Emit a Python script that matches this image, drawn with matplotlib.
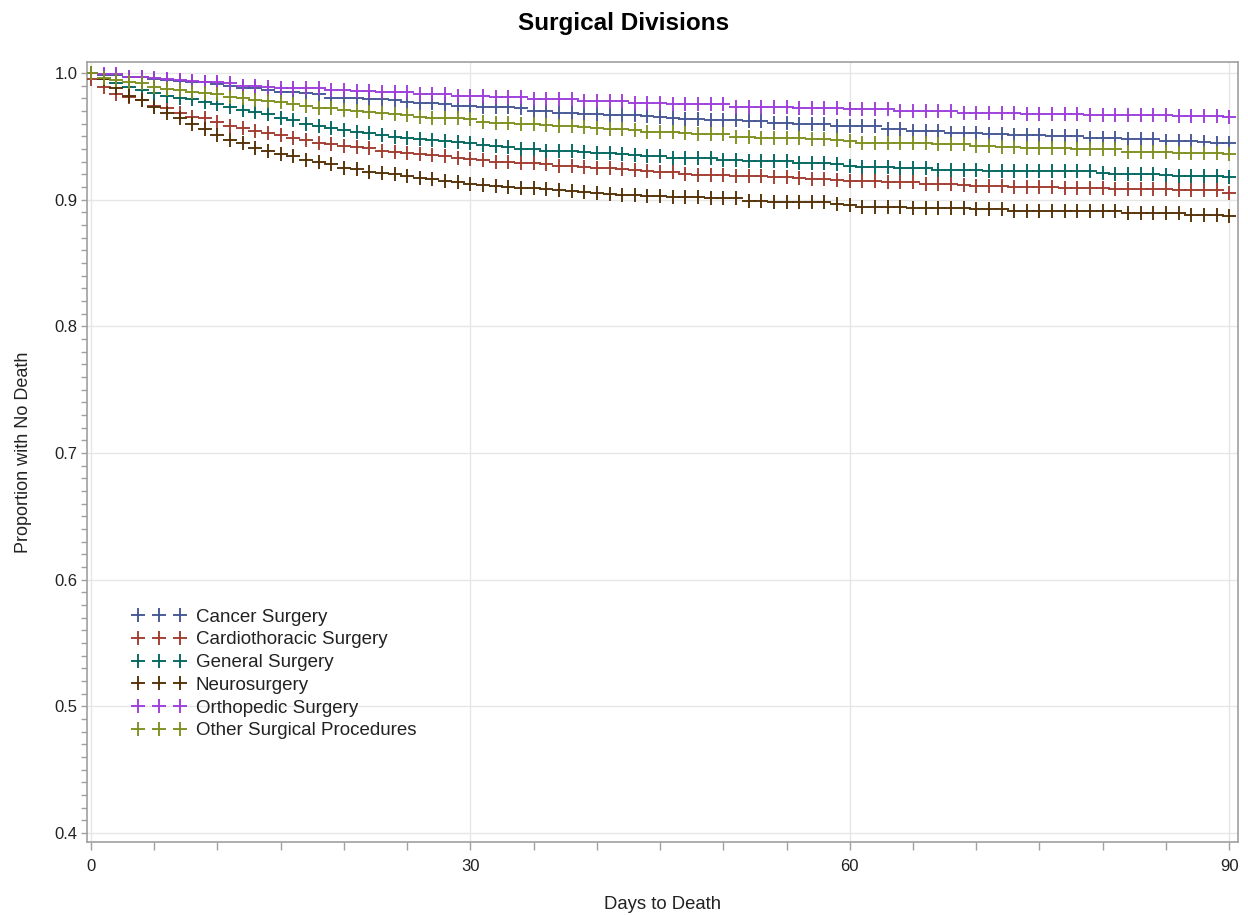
import matplotlib
matplotlib.use("Agg")
import matplotlib.pyplot as plt
from matplotlib.lines import Line2D
from matplotlib.ticker import MultipleLocator, FixedLocator

plt.rcParams['font.family'] = ['Liberation Sans', 'DejaVu Sans']

days = list(range(0, 91))

series_names = ["Cancer Surgery", "Cardiothoracic Surgery", "General Surgery",
                "Neurosurgery", "Orthopedic Surgery", "Other Surgical Procedures"]

cancer = [1.0000, 0.9985, 0.9980, 0.9971, 0.9971, 0.9955, 0.9947, 0.9940, 0.9932, 0.9926,
          0.9911, 0.9900, 0.9884, 0.9879, 0.9866, 0.9853, 0.9847, 0.9840, 0.9832, 0.9805,
          0.9805, 0.9800, 0.9795, 0.9795, 0.9787, 0.9774, 0.9761, 0.9761, 0.9753, 0.9740,
          0.9740, 0.9729, 0.9729, 0.9729, 0.9721, 0.9703, 0.9703, 0.9687, 0.9687, 0.9676,
          0.9676, 0.9669, 0.9669, 0.9669, 0.9661, 0.9655, 0.9642, 0.9637, 0.9637, 0.9629,
          0.9629, 0.9629, 0.9621, 0.9621, 0.9603, 0.9603, 0.9595, 0.9595, 0.9595, 0.9584,
          0.9582, 0.9582, 0.9582, 0.9555, 0.9555, 0.9545, 0.9545, 0.9545, 0.9529, 0.9529,
          0.9529, 0.9519, 0.9519, 0.9511, 0.9511, 0.9511, 0.9503, 0.9503, 0.9503, 0.9484,
          0.9484, 0.9484, 0.9476, 0.9476, 0.9476, 0.9466, 0.9466, 0.9466, 0.9458, 0.9450,
          0.9450]

cardio = [0.9950, 0.9886, 0.9837, 0.9810, 0.9790, 0.9740, 0.9721, 0.9682, 0.9655, 0.9642,
          0.9611, 0.9584, 0.9563, 0.9542, 0.9524, 0.9511, 0.9490, 0.9471, 0.9445, 0.9437,
          0.9426, 0.9419, 0.9405, 0.9384, 0.9374, 0.9366, 0.9358, 0.9353, 0.9348, 0.9332,
          0.9324, 0.9313, 0.9300, 0.9300, 0.9292, 0.9292, 0.9282, 0.9266, 0.9266, 0.9255,
          0.9248, 0.9248, 0.9240, 0.9234, 0.9229, 0.9215, 0.9215, 0.9200, 0.9195, 0.9195,
          0.9195, 0.9190, 0.9190, 0.9190, 0.9182, 0.9182, 0.9174, 0.9163, 0.9163, 0.9155,
          0.9150, 0.9150, 0.9150, 0.9142, 0.9142, 0.9142, 0.9124, 0.9124, 0.9124, 0.9116,
          0.9108, 0.9108, 0.9108, 0.9098, 0.9098, 0.9098, 0.9098, 0.9090, 0.9090, 0.9090,
          0.9090, 0.9082, 0.9082, 0.9082, 0.9082, 0.9082, 0.9077, 0.9077, 0.9077, 0.9077,
          0.9050]

general = [1.0000, 0.9953, 0.9918, 0.9892, 0.9866, 0.9840, 0.9821, 0.9805, 0.9795, 0.9774,
           0.9753, 0.9734, 0.9708, 0.9695, 0.9674, 0.9647, 0.9629, 0.9595, 0.9584, 0.9569,
           0.9550, 0.9537, 0.9524, 0.9511, 0.9497, 0.9490, 0.9479, 0.9471, 0.9463, 0.9453,
           0.9445, 0.9432, 0.9424, 0.9413, 0.9398, 0.9398, 0.9387, 0.9387, 0.9387, 0.9379,
           0.9371, 0.9371, 0.9361, 0.9353, 0.9345, 0.9345, 0.9332, 0.9332, 0.9332, 0.9332,
           0.9313, 0.9313, 0.9305, 0.9305, 0.9305, 0.9305, 0.9287, 0.9287, 0.9287, 0.9279,
           0.9266, 0.9255, 0.9255, 0.9255, 0.9248, 0.9248, 0.9248, 0.9234, 0.9234, 0.9234,
           0.9234, 0.9229, 0.9229, 0.9229, 0.9229, 0.9229, 0.9229, 0.9229, 0.9229, 0.9229,
           0.9213, 0.9203, 0.9203, 0.9203, 0.9203, 0.9195, 0.9187, 0.9187, 0.9187, 0.9187,
           0.9177]

neuro = [1.0000, 0.9953, 0.9884, 0.9816, 0.9790, 0.9734, 0.9682, 0.9642, 0.9595, 0.9558,
         0.9511, 0.9471, 0.9445, 0.9405, 0.9384, 0.9358, 0.9348, 0.9313, 0.9295, 0.9279,
         0.9253, 0.9242, 0.9216, 0.9208, 0.9200, 0.9190, 0.9174, 0.9163, 0.9148, 0.9142,
         0.9127, 0.9116, 0.9108, 0.9098, 0.9090, 0.9090, 0.9082, 0.9077, 0.9071, 0.9063,
         0.9050, 0.9045, 0.9037, 0.9037, 0.9026, 0.9026, 0.9024, 0.9024, 0.9020, 0.9011,
         0.9011, 0.9011, 0.8990, 0.8990, 0.8984, 0.8984, 0.8979, 0.8979, 0.8979, 0.8963,
         0.8958, 0.8945, 0.8945, 0.8945, 0.8945, 0.8932, 0.8932, 0.8932, 0.8932, 0.8932,
         0.8924, 0.8924, 0.8924, 0.8913, 0.8913, 0.8913, 0.8913, 0.8913, 0.8913, 0.8913,
         0.8913, 0.8913, 0.8898, 0.8898, 0.8898, 0.8898, 0.8898, 0.8879, 0.8879, 0.8879,
         0.8871]

ortho = [1.0000, 0.9995, 0.9995, 0.9971, 0.9968, 0.9963, 0.9953, 0.9945, 0.9937, 0.9932,
         0.9926, 0.9918, 0.9900, 0.9900, 0.9892, 0.9884, 0.9884, 0.9879, 0.9879, 0.9866,
         0.9866, 0.9858, 0.9858, 0.9853, 0.9853, 0.9853, 0.9832, 0.9832, 0.9832, 0.9821,
         0.9821, 0.9821, 0.9813, 0.9813, 0.9813, 0.9792, 0.9792, 0.9792, 0.9792, 0.9782,
         0.9782, 0.9782, 0.9782, 0.9766, 0.9766, 0.9766, 0.9753, 0.9753, 0.9753, 0.9753,
         0.9753, 0.9734, 0.9734, 0.9734, 0.9734, 0.9734, 0.9726, 0.9726, 0.9726, 0.9726,
         0.9713, 0.9713, 0.9713, 0.9713, 0.9703, 0.9703, 0.9703, 0.9703, 0.9703, 0.9687,
         0.9687, 0.9687, 0.9687, 0.9687, 0.9676, 0.9676, 0.9676, 0.9676, 0.9676, 0.9669,
         0.9669, 0.9669, 0.9669, 0.9669, 0.9669, 0.9669, 0.9661, 0.9661, 0.9661, 0.9661,
         0.9655]

other = [1.0000, 0.9963, 0.9945, 0.9932, 0.9918, 0.9892, 0.9874, 0.9866, 0.9853, 0.9840,
         0.9832, 0.9813, 0.9800, 0.9787, 0.9779, 0.9774, 0.9753, 0.9742, 0.9726, 0.9721,
         0.9708, 0.9700, 0.9695, 0.9682, 0.9674, 0.9669, 0.9655, 0.9647, 0.9647, 0.9642,
         0.9633, 0.9616, 0.9608, 0.9603, 0.9597, 0.9597, 0.9590, 0.9582, 0.9582, 0.9571,
         0.9563, 0.9555, 0.9555, 0.9550, 0.9537, 0.9532, 0.9532, 0.9524, 0.9516, 0.9516,
         0.9516, 0.9497, 0.9497, 0.9490, 0.9490, 0.9490, 0.9484, 0.9479, 0.9479, 0.9471,
         0.9466, 0.9450, 0.9450, 0.9450, 0.9450, 0.9450, 0.9450, 0.9440, 0.9440, 0.9440,
         0.9424, 0.9424, 0.9419, 0.9419, 0.9405, 0.9405, 0.9405, 0.9405, 0.9398, 0.9398,
         0.9398, 0.9398, 0.9379, 0.9379, 0.9379, 0.9379, 0.9371, 0.9371, 0.9371, 0.9371,
         0.9361]

series_values = [cancer, cardio, general, neuro, ortho, other]
colors = ["#445694", "#A23A2E", "#01665E", "#543005", "#9D3CDB", "#7F8E1F"]

x_major = [0, 30, 60, 90]
y_major = [0.4, 0.5, 0.6, 0.7, 0.8, 0.9, 1.0]

fig = plt.figure(figsize=(12.48, 9.15), dpi=100)
ax = fig.add_axes([0.0697, 0.0798, 0.9223, 0.8525])

for name, vals, c in zip(series_names, series_values, colors):
    ax.plot(days, vals, linestyle='none', marker='+', markersize=9.5,
            markeredgewidth=1.35, color=c, label=name, zorder=3)

ax.set_xlim(-0.32, 90.7)
ax.set_ylim(0.3929, 1.0087)

ax.xaxis.set_major_locator(FixedLocator(x_major))
ax.xaxis.set_minor_locator(MultipleLocator(5))
ax.yaxis.set_major_locator(FixedLocator(y_major))
ax.yaxis.set_minor_locator(MultipleLocator(0.01))
ax.set_yticklabels([f"{v:.1f}" for v in y_major])

ax.grid(True, which='major', color='#e6e6e6', linewidth=1.0, zorder=0)
ax.set_axisbelow(True)

for s in ax.spines.values():
    s.set_color('#a0a0a0')
    s.set_linewidth(1.2)

ax.tick_params(axis='both', which='both', colors='#a0a0a0', labelcolor='#222222',
               labelsize=12)
ax.tick_params(axis='x', which='both', length=6, width=1, pad=6)
ax.tick_params(axis='y', which='both', length=4, width=1, pad=3)

ax.set_xlabel("Days to Death", fontsize=13.3, color='#222222', labelpad=16)
ax.set_ylabel("Proportion with No Death", fontsize=13, color='#222222', labelpad=16)

fig.suptitle("Surgical Divisions", fontsize=17.5, fontweight='bold', y=0.987)

handles = [Line2D([], [], linestyle='none', marker='+', markersize=9.5,
                  markeredgewidth=1.35, color=c) for c in colors]
leg = ax.legend(handles, series_names, loc='upper left', bbox_to_anchor=(0.0329, 0.309),
                frameon=False, numpoints=3, handlelength=2.82, handletextpad=0.55,
                labelspacing=0.30, fontsize=13.5, borderaxespad=0)
for t in leg.get_texts():
    t.set_color('#222222')

fig.savefig("out.png", dpi=100)
